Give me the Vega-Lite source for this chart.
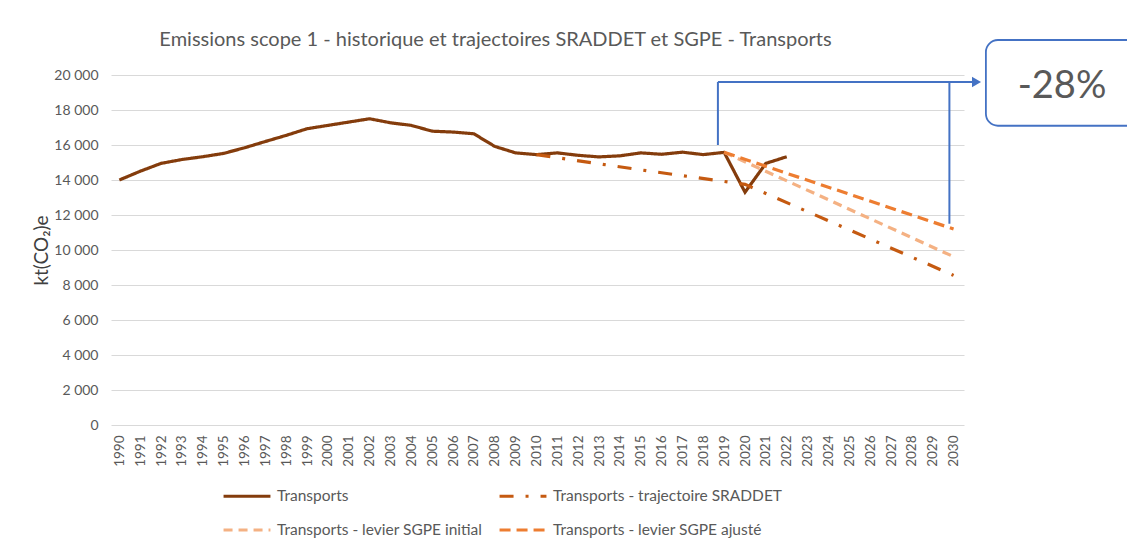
{
  "$schema": "https://vega.github.io/schema/vega-lite/v6.json",
  "width": 853,
  "height": 350,
  "autosize": {"type": "none"},
  "padding": {"left": 111, "top": 75, "right": 163, "bottom": 123},
  "background": "white",
  "config": {"font": "Lato", "view": {"stroke": null}},
  "title": {
    "text": "Emissions scope 1 - historique et trajectoires SRADDET et SGPE - Transports",
    "fontSize": 20,
    "fontWeight": "normal",
    "color": "#595959",
    "anchor": "middle",
    "dx": -42,
    "dy": 25,
    "offset": 14
  },
  "layer": [
    {
      "data": {
        "values": [
          {"year": 1990, "series": "Transports", "value": 14000},
          {"year": 1991, "series": "Transports", "value": 14500},
          {"year": 1992, "series": "Transports", "value": 14950},
          {"year": 1993, "series": "Transports", "value": 15170},
          {"year": 1994, "series": "Transports", "value": 15330},
          {"year": 1995, "series": "Transports", "value": 15520},
          {"year": 1996, "series": "Transports", "value": 15840},
          {"year": 1997, "series": "Transports", "value": 16200},
          {"year": 1998, "series": "Transports", "value": 16550},
          {"year": 1999, "series": "Transports", "value": 16930},
          {"year": 2000, "series": "Transports", "value": 17120},
          {"year": 2001, "series": "Transports", "value": 17310},
          {"year": 2002, "series": "Transports", "value": 17500},
          {"year": 2003, "series": "Transports", "value": 17270},
          {"year": 2004, "series": "Transports", "value": 17120},
          {"year": 2005, "series": "Transports", "value": 16790},
          {"year": 2006, "series": "Transports", "value": 16740},
          {"year": 2007, "series": "Transports", "value": 16640},
          {"year": 2008, "series": "Transports", "value": 15920},
          {"year": 2009, "series": "Transports", "value": 15550},
          {"year": 2010, "series": "Transports", "value": 15450},
          {"year": 2011, "series": "Transports", "value": 15550},
          {"year": 2012, "series": "Transports", "value": 15410},
          {"year": 2013, "series": "Transports", "value": 15320},
          {"year": 2014, "series": "Transports", "value": 15380},
          {"year": 2015, "series": "Transports", "value": 15550},
          {"year": 2016, "series": "Transports", "value": 15470},
          {"year": 2017, "series": "Transports", "value": 15590},
          {"year": 2018, "series": "Transports", "value": 15450},
          {"year": 2019, "series": "Transports", "value": 15580},
          {"year": 2020, "series": "Transports", "value": 13300},
          {"year": 2021, "series": "Transports", "value": 14950},
          {"year": 2022, "series": "Transports", "value": 15330},
          {"year": 2010, "series": "Transports - trajectoire SRADDET", "value": 15450},
          {"year": 2015, "series": "Transports - trajectoire SRADDET", "value": 14580},
          {"year": 2020, "series": "Transports - trajectoire SRADDET", "value": 13750},
          {"year": 2030, "series": "Transports - trajectoire SRADDET", "value": 8550},
          {"year": 2019, "series": "Transports - levier SGPE initial", "value": 15580},
          {"year": 2030, "series": "Transports - levier SGPE initial", "value": 9620},
          {"year": 2019, "series": "Transports - levier SGPE ajusté", "value": 15580},
          {"year": 2030, "series": "Transports - levier SGPE ajusté", "value": 11200}
        ]
      },
      "mark": {"type": "line", "strokeWidth": 3.2, "clip": false},
      "encoding": {
        "x": {
          "field": "year",
          "type": "quantitative",
          "scale": {"domain": [1989.6, 2030.5], "nice": false, "zero": false},
          "axis": {
            "title": null,
            "values": [1990,1991,1992,1993,1994,1995,1996,1997,1998,1999,2000,2001,2002,2003,2004,2005,2006,2007,2008,2009,2010,2011,2012,2013,2014,2015,2016,2017,2018,2019,2020,2021,2022,2023,2024,2025,2026,2027,2028,2029,2030],
            "tickCount": 60,
            "format": "d",
            "labelAngle": -90,
            "labelFontSize": 13.5,
            "labelColor": "#595959",
            "labelPadding": 10,
            "ticks": false,
            "domain": false,
            "grid": false,
            "labelOverlap": false,
            "labelFlush": false
          }
        },
        "y": {
          "field": "value",
          "type": "quantitative",
          "scale": {"domain": [0, 20000], "nice": false},
          "axis": {
            "title": "kt(CO₂)e",
            "titleFontSize": 19,
            "titleFontWeight": "normal",
            "titleColor": "#404040",
            "titlePadding": 2,
            "values": [0,2000,4000,6000,8000,10000,12000,14000,16000,18000,20000],
            "tickCount": 20,
            "labelExpr": "replace(format(datum.value, ','), ',', ' ')",
            "labelFontSize": 14,
            "labelColor": "#595959",
            "labelPadding": 13,
            "labelOverlap": false,
            "ticks": false,
            "domain": false,
            "grid": true,
            "gridColor": "#D9D9D9",
            "gridWidth": 1.2
          }
        },
        "color": {
          "field": "series",
          "type": "nominal",
          "scale": {
            "domain": ["Transports", "Transports - levier SGPE initial", "Transports - trajectoire SRADDET", "Transports - levier SGPE ajusté"],
            "range": ["#843C0C", "#F4B183", "#C55A11", "#ED7D31"]
          },
          "legend": {
            "title": null,
            "orient": "none",
            "legendX": 111,
            "legendY": 396,
            "columns": 2,
            "symbolType": "stroke",
            "symbolSize": 2200,
            "symbolStrokeWidth": 3,
            "labelFontSize": 15.5,
            "labelColor": "#595959",
            "labelOffset": 5,
            "columnPadding": 10,
            "rowPadding": -4,
            "labelLimit": 400
          }
        },
        "strokeDash": {
          "field": "series",
          "type": "nominal",
          "scale": {
            "domain": ["Transports", "Transports - levier SGPE initial", "Transports - trajectoire SRADDET", "Transports - levier SGPE ajusté"],
            "range": [[1, 0], [9, 6], [14, 12, 3, 12], [11, 6]]
          },
          "legend": {
            "title": null,
            "orient": "none",
            "legendX": 111,
            "legendY": 396,
            "columns": 2,
            "symbolType": "stroke",
            "symbolSize": 2200,
            "symbolStrokeWidth": 3,
            "labelFontSize": 15.5,
            "labelColor": "#595959",
            "labelOffset": 5,
            "columnPadding": 10,
            "rowPadding": -4,
            "labelLimit": 400
          }
        }
      }
    },
    {
      "data": {
        "values": [
          {"x": 2018.7, "x2": 2018.7, "y": 16000, "y2": 19600},
          {"x": 2018.7, "x2": 2031.0, "y": 19600, "y2": 19600},
          {"x": 2029.8, "x2": 2029.8, "y": 11500, "y2": 19600}
        ]
      },
      "mark": {"type": "rule", "color": "#4472C4", "strokeWidth": 2, "clip": false},
      "encoding": {
        "x": {"field": "x", "type": "quantitative"},
        "x2": {"field": "x2"},
        "y": {"field": "y", "type": "quantitative"},
        "y2": {"field": "y2"}
      }
    },
    {
      "data": {"values": [{"x": 2031.1, "y": 19600}]},
      "mark": {"type": "point", "shape": "triangle-right", "filled": true, "color": "#4472C4", "size": 110, "opacity": 1, "clip": false},
      "encoding": {
        "x": {"field": "x", "type": "quantitative"},
        "y": {"field": "y", "type": "quantitative"}
      }
    },
    {
      "data": {"values": [{"x": 2031.55, "x2": 2040, "y": 22000, "y2": 17100}]},
      "mark": {"type": "rect", "fill": "white", "stroke": "#4472C4", "strokeWidth": 1.8, "cornerRadius": 12, "clip": false},
      "encoding": {
        "x": {"field": "x", "type": "quantitative"},
        "x2": {"field": "x2"},
        "y": {"field": "y", "type": "quantitative"},
        "y2": {"field": "y2"}
      }
    },
    {
      "data": {"values": [{"x": 2035.2, "y": 19300, "label": "-28%"}]},
      "mark": {"type": "text", "fontSize": 38, "color": "#595959", "align": "center", "baseline": "middle", "clip": false},
      "encoding": {
        "x": {"field": "x", "type": "quantitative"},
        "y": {"field": "y", "type": "quantitative"},
        "text": {"field": "label"}
      }
    }
  ]
}
